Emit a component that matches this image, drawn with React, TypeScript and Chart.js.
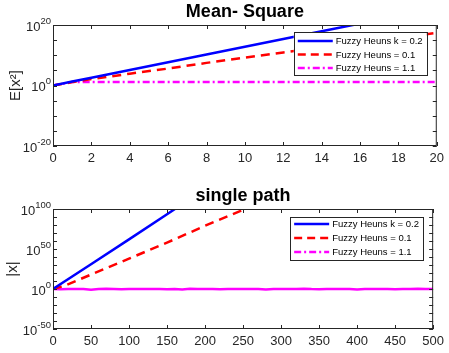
import React, { useEffect, useRef } from "react";
import { Chart, registerables } from "chart.js";

Chart.register(...registerables);

// ---------- Data: Mean-Square subplot ----------
const msX = [0, 1, 2, 4, 6, 8, 10, 12, 14, 16, 18, 20];
const msBlue = [1, 2e1, 3.5e2, 1.3e5, 4.5e7, 1.7e10, 6e12, 2.2e15, 8e17, 3e20, 1e23, 4e25];
const msRed = [1, 1.3e1, 1.3e2, 8e3, 4e5, 3e7, 1.6e9, 8e10, 4e12, 1.6e14, 6e15, 2.5e17];
const msMagenta = [1, 1.5e1, 1.5e1, 1.5e1, 1.5e1, 1.5e1, 1.5e1, 1.5e1, 1.5e1, 1.5e1, 1.5e1, 1.5e1];
const msXTicks = [0, 2, 4, 6, 8, 10, 12, 14, 16, 18, 20];
const msYMajor = [1e-20, 1e0, 1e20];
const msYMajorExp = ["-20", "0", "20"];
const msYMinor = [1e-15, 1e-10, 1e-5, 1e5, 1e10, 1e15];

// ---------- Data: single path subplot ----------
const spBlueX = [0, 50, 100, 150, 200];
const spBlue = [1, 1e31, 1e62, 3e93, 1e125];
const spRedX = [0, 15, 50, 100, 150, 200, 250, 300];
const spRed = [1, 1e4, 1e18, 1e38, 1e58, 1e79, 1e99, 1e120];
const spMagX = [
  0, 10, 20, 30, 40, 50, 60, 70, 80, 90,
  100, 110, 120, 130, 140, 150, 160, 170, 180, 190,
  200, 210, 220, 230, 240, 250, 260, 270, 280, 290,
  300, 310, 320, 330, 340, 350, 360, 370, 380, 390,
  400, 410, 420, 430, 440, 450, 460, 470, 480, 490,
  500,
];
const spMagenta = [
  1, 0.6, 1.4, 0.7, 0.8, 0.15, 0.9, 1.5, 0.8, 0.6,
  1.2, 0.7, 0.9, 1.4, 0.8, 0.6, 1.3, 0.2, 1.5, 0.8,
  0.7, 1.2, 0.6, 1.3, 0.9, 0.7, 1.2, 0.8, 0.2, 0.9,
  0.7, 1.3, 0.8, 1.5, 0.7, 0.6, 1.3, 0.8, 1.2, 0.9,
  0.3, 1.2, 0.7, 1.4, 0.8, 0.6, 1.3, 0.7, 1.5, 0.8,
  1,
];
const spXTicks = [0, 50, 100, 150, 200, 250, 300, 350, 400, 450, 500];
const spYMajor = [1e-50, 1e0, 1e50, 1e100];
const spYMajorExp = ["-50", "0", "50", "100"];
const spYMinor = [
  1e-40, 1e-30, 1e-20, 1e-10, 1e10, 1e20, 1e30, 1e40, 1e60, 1e70, 1e80, 1e90,
];

const legendLabels = ["Fuzzy Heuns k = 0.2", "Fuzzy Heuns = 0.1", "Fuzzy Heuns = 1.1"];
const titles = ["Mean- Square", "single path"];
const yTitles = ["E[x²]", "|x|"];

const FONT = "'Liberation Sans', Arial, sans-serif";
const AXIS = "#262626";
const BLUE = "#0000ff";
const RED = "#ff0000";
const MAGENTA = "#ff00ff";

const zip = (xs: number[], ys: number[]) => xs.map((x, i) => ({ x, y: ys[i] }));

const matlabPlugin = {
  id: "matlabAxes",
  afterDraw(chart: any, _args: any, opts: any) {
    const { ctx, chartArea: a } = chart;
    const xs = chart.scales.x;
    const ys = chart.scales.y;
    ctx.save();
    ctx.strokeStyle = AXIS;
    ctx.lineWidth = 1;
    // axes box
    ctx.strokeRect(a.left + 0.5, a.top + 0.5, a.right - a.left - 1, a.bottom - a.top - 1);
    // tick marks (inward, all four sides)
    const tl = 4;
    ctx.beginPath();
    for (const v of opts.xTicks) {
      const px = Math.round(xs.getPixelForValue(v)) + 0.5;
      ctx.moveTo(px, a.bottom);
      ctx.lineTo(px, a.bottom - tl);
      ctx.moveTo(px, a.top);
      ctx.lineTo(px, a.top + tl);
    }
    for (const v of [...opts.yMajor, ...opts.yMinor]) {
      const py = Math.round(ys.getPixelForValue(v)) + 0.5;
      ctx.moveTo(a.left, py);
      ctx.lineTo(a.left + tl, py);
      ctx.moveTo(a.right, py);
      ctx.lineTo(a.right - tl, py);
    }
    ctx.stroke();

    // y tick labels: 10 with superscript exponent
    ctx.fillStyle = AXIS;
    ctx.textBaseline = "middle";
    opts.yMajor.forEach((v: number, i: number) => {
      const py = ys.getPixelForValue(v);
      const exp = opts.yExp[i];
      ctx.font = `9.5px ${FONT}`;
      const ew = ctx.measureText(exp).width;
      ctx.textAlign = "right";
      ctx.fillText(exp, a.left - 2, py - 4);
      ctx.font = `13px ${FONT}`;
      ctx.fillText("10", a.left - 2 - ew, py + 2);
    });

    // y axis title
    ctx.save();
    ctx.font = `15px ${FONT}`;
    ctx.textAlign = "center";
    ctx.textBaseline = "middle";
    ctx.translate(opts.yTitleX, (a.top + a.bottom) / 2);
    ctx.rotate(-Math.PI / 2);
    ctx.fillText(opts.yTitle, 0, 0);
    ctx.restore();

    // title
    ctx.fillStyle = "#000";
    ctx.font = `bold 18px ${FONT}`;
    ctx.textAlign = "center";
    ctx.textBaseline = "alphabetic";
    ctx.fillText(opts.title, (a.left + a.right) / 2, a.top - 8.5);

    // legend box
    const lb = opts.legend;
    const bx = a.right - lb.right - lb.width;
    const by = a.top + lb.top;
    ctx.fillStyle = "#fff";
    ctx.fillRect(bx, by, lb.width, lb.height);
    ctx.strokeStyle = AXIS;
    ctx.strokeRect(Math.round(bx) + 0.5, Math.round(by) + 0.5, lb.width, lb.height);
    ctx.font = `9.5px ${FONT}`;
    ctx.textAlign = "left";
    ctx.textBaseline = "middle";
    lb.items.forEach((it: any, i: number) => {
      const ry = by + lb.rowStart + i * lb.rowGap;
      ctx.save();
      ctx.strokeStyle = it.color;
      ctx.lineWidth = 2.5;
      ctx.setLineDash(it.dash);
      ctx.beginPath();
      ctx.moveTo(bx + 4, ry);
      ctx.lineTo(bx + 39, ry);
      ctx.stroke();
      ctx.restore();
      ctx.fillStyle = "#000";
      ctx.fillText(it.label, bx + 42, ry + 0.5);
    });
    ctx.restore();
  },
};

const legendItems = [
  { label: legendLabels[0], color: BLUE, dash: [] },
  { label: legendLabels[1], color: RED, dash: [8, 5] },
  { label: legendLabels[2], color: MAGENTA, dash: [7, 3, 2, 3] },
];

function buildConfig(p: any): any {
  return {
    type: "line",
    data: { datasets: p.datasets },
    options: {
      animation: false,
      responsive: false,
      events: [],
      layout: { padding: { top: p.padTop, right: 12, left: 0, bottom: 0 } },
      elements: { point: { radius: 0 }, line: { tension: 0 } },
      plugins: {
        legend: { display: false },
        title: { display: false },
        tooltip: { enabled: false },
        matlabAxes: p.axes,
      },
      scales: {
        x: {
          type: "linear",
          min: p.xMin,
          max: p.xMax,
          afterBuildTicks: (s: any) => {
            s.ticks = p.xTicks.map((v: number) => ({ value: v }));
          },
          afterFit: (s: any) => {
            s.height = p.xHeight;
          },
          grid: { display: false, drawTicks: false },
          border: { display: false },
          ticks: {
            color: AXIS,
            font: { family: FONT, size: 13 },
            padding: 5,
            maxRotation: 0,
            autoSkip: false,
          },
        },
        y: {
          type: "logarithmic",
          min: p.yMin,
          max: p.yMax,
          afterFit: (s: any) => {
            s.width = 53;
          },
          grid: { display: false, drawTicks: false },
          border: { display: false },
          ticks: { display: false },
        },
      },
    },
    plugins: [matlabPlugin],
  };
}

const lineDs = (data: any[], color: string, dash: number[], width = 2.5) => ({
  data,
  borderColor: color,
  backgroundColor: color,
  borderWidth: width,
  borderDash: dash,
  fill: false,
  pointRadius: 0,
});

export default function App() {
  const topRef = useRef<HTMLCanvasElement>(null);
  const botRef = useRef<HTMLCanvasElement>(null);

  useEffect(() => {
    const top = new Chart(
      topRef.current as HTMLCanvasElement,
      buildConfig({
        datasets: [
          lineDs(zip(msX, msBlue), BLUE, []),
          lineDs(zip(msX, msRed), RED, [9, 6]),
          lineDs(zip(msX, msMagenta), MAGENTA, [7, 3, 2, 3]),
        ],
        padTop: 25,
        xHeight: 30,
        xMin: 0,
        xMax: 20,
        xTicks: msXTicks,
        yMin: 1e-20,
        yMax: 1e20,
        axes: {
          xTicks: msXTicks,
          yMajor: msYMajor,
          yExp: msYMajorExp,
          yMinor: msYMinor,
          yTitle: yTitles[0],
          yTitleX: 16,
          title: titles[0],
          legend: { items: legendItems, right: 10, width: 133, top: 7, height: 43, rowStart: 9, rowGap: 13.5 },
        },
      })
    );
    const bot = new Chart(
      botRef.current as HTMLCanvasElement,
      buildConfig({
        datasets: [
          lineDs(zip(spBlueX, spBlue), BLUE, []),
          lineDs(zip(spRedX, spRed), RED, [9, 6]),
          lineDs(zip(spMagX, spMagenta), MAGENTA, [], 2.5),
        ],
        padTop: 33,
        xHeight: 24,
        xMin: 0,
        xMax: 500,
        xTicks: spXTicks,
        yMin: 1e-50,
        yMax: 1e100,
        axes: {
          xTicks: spXTicks,
          yMajor: spYMajor,
          yExp: spYMajorExp,
          yMinor: spYMinor,
          yTitle: yTitles[1],
          yTitleX: 13,
          title: titles[1],
          legend: { items: legendItems, right: 10, width: 133, top: 8, height: 43, rowStart: 7, rowGap: 14 },
        },
      })
    );
    return () => {
      top.destroy();
      bot.destroy();
    };
  }, []);

  return (
    <div style={{ position: "absolute", left: 0, top: 0, width: 449, height: 353, background: "#fff" }}>
      <canvas ref={topRef} width={449} height={176} style={{ display: "block" }} />
      <canvas ref={botRef} width={449} height={177} style={{ display: "block" }} />
    </div>
  );
}
